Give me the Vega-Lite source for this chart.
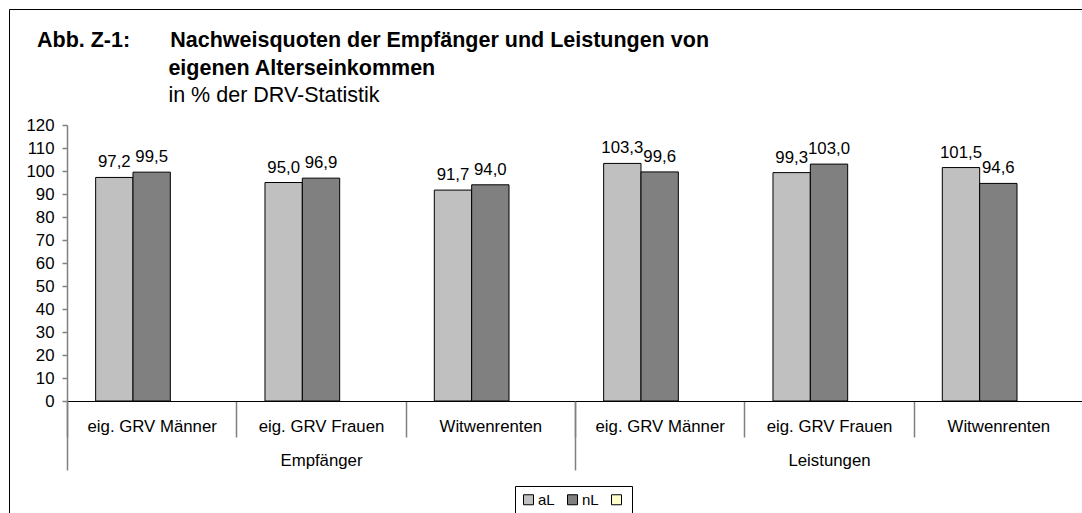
{
  "$schema": "https://vega.github.io/schema/vega-lite/v6.json",
  "autosize": {"type": "none"},
  "padding": {"left": 67, "top": 125, "right": 0, "bottom": 112},
  "width": 1016,
  "height": 276,
  "background": "white",
  "config": {
    "font": "Liberation Sans",
    "view": {"stroke": null},
    "locale": {"number": {"decimal": ",", "thousands": ".", "grouping": [3], "currency": ["", " €"]}}
  },
  "title": {
    "text": ["Abb. Z-1:\u00a0\u00a0\u00a0\u00a0\u00a0\u00a0\u2009Nachweisquoten der Empfänger und Leistungen von", "\u200b\u00a0\u00a0\u00a0\u00a0\u00a0\u00a0\u00a0\u00a0\u00a0\u00a0\u00a0\u00a0\u00a0\u00a0\u00a0\u00a0\u00a0\u00a0\u00a0\u00a0\u00a0\u00a0eigenen Alterseinkommen"],
    "subtitle": "\u200b\u00a0\u00a0\u00a0\u00a0\u00a0\u00a0\u00a0\u00a0\u00a0\u00a0\u00a0\u00a0\u00a0\u00a0\u00a0\u00a0\u00a0\u00a0\u00a0\u00a0\u00a0\u00a0in % der DRV-Statistik",
    "anchor": "start",
    "frame": "group",
    "dx": -30,
    "font": "Liberation Sans",
    "fontSize": 21.5,
    "fontWeight": "bold",
    "lineHeight": 28,
    "color": "#000",
    "subtitleFont": "Liberation Sans",
    "subtitleFontSize": 21.5,
    "subtitleFontWeight": "normal",
    "subtitleColor": "#000",
    "subtitlePadding": 6,
    "offset": -98
  },
  "data": {
    "values": [
      {"gruppe": "Empfänger", "kategorie": "Empfänger|eig. GRV Männer", "serie": "aL", "wert": 97.2},
      {"gruppe": "Empfänger", "kategorie": "Empfänger|eig. GRV Männer", "serie": "nL", "wert": 99.5},
      {"gruppe": "Empfänger", "kategorie": "Empfänger|eig. GRV Frauen", "serie": "aL", "wert": 95.0},
      {"gruppe": "Empfänger", "kategorie": "Empfänger|eig. GRV Frauen", "serie": "nL", "wert": 96.9},
      {"gruppe": "Empfänger", "kategorie": "Empfänger|Witwenrenten", "serie": "aL", "wert": 91.7},
      {"gruppe": "Empfänger", "kategorie": "Empfänger|Witwenrenten", "serie": "nL", "wert": 94.0},
      {"gruppe": "Leistungen", "kategorie": "Leistungen|eig. GRV Männer", "serie": "aL", "wert": 103.3},
      {"gruppe": "Leistungen", "kategorie": "Leistungen|eig. GRV Männer", "serie": "nL", "wert": 99.6},
      {"gruppe": "Leistungen", "kategorie": "Leistungen|eig. GRV Frauen", "serie": "aL", "wert": 99.3},
      {"gruppe": "Leistungen", "kategorie": "Leistungen|eig. GRV Frauen", "serie": "nL", "wert": 103.0},
      {"gruppe": "Leistungen", "kategorie": "Leistungen|Witwenrenten", "serie": "aL", "wert": 101.5},
      {"gruppe": "Leistungen", "kategorie": "Leistungen|Witwenrenten", "serie": "nL", "wert": 94.6}
    ]
  },
  "layer": [
    {
      "encoding": {
        "x": {
          "field": "kategorie",
          "type": "nominal",
          "sort": null,
          "scale": {"paddingInner": 0, "paddingOuter": 0},
          "axis": {
            "title": null,
            "orient": "bottom",
            "domainColor": "#000",
            "domainWidth": 1,
            "tickBand": "extent",
            "tickColor": "#808080",
            "tickWidth": 1.5,
            "tickSize": 36,
            "labelAngle": 0,
            "labelFont": "Liberation Sans",
            "labelFontSize": 16.8,
            "labelColor": "#000",
            "labelPadding": -19,
            "labelExpr": "split(datum.label, '|')[1]"
          }
        },
        "xOffset": {
          "field": "serie",
          "type": "nominal",
          "scale": {"domain": ["aL", "nL", "-"], "paddingInner": 0, "paddingOuter": 0.767}
        },
        "y": {
          "field": "wert",
          "type": "quantitative",
          "scale": {"domain": [0, 120], "nice": false},
          "axis": {
            "title": null,
            "values": [0, 10, 20, 30, 40, 50, 60, 70, 80, 90, 100, 110, 120],
            "labelOverlap": false,
            "grid": false,
            "domainColor": "#808080",
            "domainWidth": 1.5,
            "tickColor": "#808080",
            "tickWidth": 1.5,
            "tickSize": 5,
            "labelFont": "Liberation Sans",
            "labelFontSize": 16.8,
            "labelColor": "#000",
            "labelPadding": 8
          }
        }
      },
      "layer": [
        {
          "mark": {"type": "bar", "stroke": "#000", "strokeWidth": 1},
          "encoding": {
            "color": {
              "field": "serie",
              "type": "nominal",
              "scale": {"domain": ["aL", "nL", "-"], "range": ["#C0C0C0", "#808080", "#FFFFCC"]},
              "legend": {
                "title": null,
                "orient": "none",
                "legendX": 448,
                "legendY": 361,
                "direction": "horizontal",
                "strokeColor": "#000",
                "padding": 6,
                "symbolType": "square",
                "symbolSize": 100,
                "symbolStrokeColor": "#000",
                "symbolStrokeWidth": 1,
                "symbolOpacity": 1,
                "labelFont": "Liberation Sans",
                "labelFontSize": 15,
                "labelColor": "#000",
                "labelOffset": 2,
                "columnPadding": 10,
                "labelExpr": "datum.label === '-' ? '' : datum.label"
              }
            }
          }
        },
        {
          "mark": {"type": "text", "baseline": "alphabetic", "dy": -10, "fontSize": 16.8, "font": "Liberation Sans", "color": "#000"},
          "encoding": {
            "text": {"field": "wert", "type": "quantitative", "format": ".1f"}
          }
        }
      ]
    },
    {
      "mark": {"type": "rule", "opacity": 0},
      "encoding": {
        "x": {
          "field": "gruppe",
          "type": "nominal",
          "sort": null,
          "scale": {"paddingInner": 0, "paddingOuter": 0},
          "axis": {
            "title": null,
            "orient": "bottom",
            "domain": false,
            "tickBand": "extent",
            "tickColor": "#808080",
            "tickWidth": 1.5,
            "tickSize": 69,
            "labelAngle": 0,
            "labelFont": "Liberation Sans",
            "labelFontSize": 16.8,
            "labelColor": "#000",
            "labelPadding": -18
          }
        },
        "strokeDash": {
          "datum": "Rahmen",
          "legend": {
            "title": null,
            "orient": "none",
            "legendX": -58,
            "legendY": -116,
            "padding": 540,
            "strokeColor": "#000",
            "symbolSize": 0,
            "symbolOpacity": 0,
            "symbolStrokeWidth": 0,
            "labelExpr": "''",
            "labelFontSize": 1
          }
        }
      }
    }
  ],
  "resolve": {"scale": {"x": "independent"}, "axis": {"x": "independent"}}
}
